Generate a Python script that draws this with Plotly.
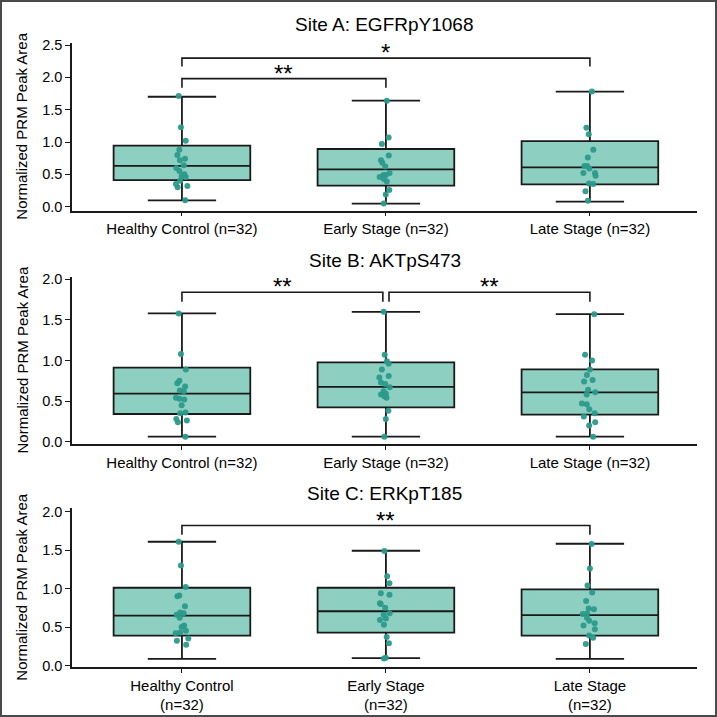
import plotly.graph_objects as go

# ---------------- data ----------------
categories = ["Healthy Control (n=32)", "Early Stage (n=32)", "Late Stage (n=32)"]
categories_c = ["Healthy Control<br>(n=32)", "Early Stage<br>(n=32)", "Late Stage<br>(n=32)"]
panel_titles = ["Site A: EGFRpY1068", "Site B: AKTpS473", "Site C: ERKpT185"]
y_title = "Normalized PRM Peak Area"

# box statistics per panel (Healthy, Early, Late)
a_q1 = [0.41, 0.325, 0.345]
a_med = [0.63, 0.577, 0.608]
a_q3 = [0.943, 0.892, 1.015]
a_lo = [0.098, 0.046, 0.077]
a_hi = [1.70, 1.64, 1.78]

b_q1 = [0.341, 0.423, 0.333]
b_med = [0.591, 0.674, 0.608]
b_q3 = [0.912, 0.977, 0.891]
b_lo = [0.062, 0.062, 0.062]
b_hi = [1.58, 1.60, 1.57]

c_q1 = [0.387, 0.426, 0.387]
c_med = [0.649, 0.705, 0.654]
c_q3 = [1.011, 1.011, 0.989]
c_lo = [0.086, 0.095, 0.086]
c_hi = [1.609, 1.492, 1.583]

# shown individual points
a_healthy = [1.71, 1.23, 1.02, 0.88, 0.80, 0.74, 0.72, 0.64, 0.60, 0.55, 0.50, 0.47, 0.46, 0.40, 0.35, 0.30, 0.32, 0.10]
a_early = [1.64, 1.07, 0.97, 0.79, 0.72, 0.68, 0.62, 0.52, 0.49, 0.49, 0.46, 0.43, 0.39, 0.26, 0.19, 0.05]
a_late = [1.78, 1.22, 1.12, 0.88, 0.76, 0.63, 0.63, 0.59, 0.52, 0.52, 0.48, 0.36, 0.35, 0.24, 0.09]

b_healthy = [1.58, 1.08, 0.89, 0.75, 0.72, 0.68, 0.63, 0.62, 0.54, 0.53, 0.52, 0.45, 0.36, 0.35, 0.28, 0.26, 0.24, 0.06]
b_early = [1.60, 1.07, 0.99, 0.96, 0.89, 0.81, 0.79, 0.73, 0.71, 0.67, 0.62, 0.59, 0.58, 0.56, 0.54, 0.38, 0.28, 0.06]
b_late = [1.57, 1.07, 1.00, 0.89, 0.82, 0.76, 0.74, 0.64, 0.61, 0.58, 0.47, 0.46, 0.40, 0.35, 0.31, 0.24, 0.20, 0.06]

c_healthy = [1.61, 1.30, 1.02, 0.91, 0.90, 0.77, 0.69, 0.68, 0.66, 0.62, 0.52, 0.50, 0.45, 0.43, 0.42, 0.35, 0.32, 0.27]
c_early = [1.49, 1.16, 1.07, 0.94, 0.92, 0.81, 0.80, 0.75, 0.68, 0.66, 0.61, 0.59, 0.53, 0.37, 0.29, 0.10, 0.09]
c_late = [1.58, 1.26, 1.04, 0.95, 0.84, 0.74, 0.73, 0.68, 0.67, 0.62, 0.58, 0.55, 0.52, 0.47, 0.39, 0.36, 0.28]

# significance brackets: (group_from, group_to, bar level, leg bottom, label)
a_sig = [(0, 2, 2.297, 2.168, "*"), (0, 1, 1.98, 1.838, "**")]
b_sig = [(0, 0.985, 1.84, 1.724, "**"), (1.015, 2, 1.84, 1.724, "**")]
c_sig = [(0, 2, 1.82, 1.70, "**")]

# ---------------- styling / layout ----------------
FONT = "Arial, Liberation Sans, sans-serif"
BOX_FILL = "#8dcfc0"
PT_COLOR = "#2b9a8b"
LINE = "#1a1a1a"
TXT = "#000000"

W = H = 717
x_dom = [72 / W, 697 / W]
y_doms = [[1 - 210.7 / H, 1 - 42.7 / H], [1 - 444.3 / H, 1 - 276.7 / H], [1 - 667 / H, 1 - 508.3 / H]]
y_ranges = [[-0.062, 2.536], [-0.032, 2.032], [-0.02, 2.044]]
y_ticks = [[0, 0.5, 1.0, 1.5, 2.0, 2.5], [0, 0.5, 1.0, 1.5, 2.0], [0, 0.5, 1.0, 1.5, 2.0]]
title_y = [1 - 24.7 / H, 1 - 260.7 / H, 1 - 493.3 / H]

panels = [
    (a_q1, a_med, a_q3, a_lo, a_hi, [a_healthy, a_early, a_late], a_sig, categories),
    (b_q1, b_med, b_q3, b_lo, b_hi, [b_healthy, b_early, b_late], b_sig, categories),
    (c_q1, c_med, c_q3, c_lo, c_hi, [c_healthy, c_early, c_late], c_sig, categories_c),
]

fig = go.Figure()
shapes = []
annotations = []
layout_axes = {}

for i, (q1, med, q3, lo, hi, pts, sig, labels) in enumerate(panels):
    n = i + 1
    xa = "x" if n == 1 else f"x{n}"
    ya = "y" if n == 1 else f"y{n}"
    xkey = "xaxis" if n == 1 else f"xaxis{n}"
    ykey = "yaxis" if n == 1 else f"yaxis{n}"

    fig.add_trace(go.Box(
        x=[0, 1, 2], q1=q1, median=med, q3=q3, lowerfence=lo, upperfence=hi,
        width=0.67, whiskerwidth=0.5, fillcolor=BOX_FILL,
        line=dict(color=LINE, width=1.8), boxpoints=False,
        xaxis=xa, yaxis=ya, showlegend=False, hoverinfo="skip",
    ))
    px, py = [], []
    for g, vals in enumerate(pts):
        px += [g] * len(vals)
        py += vals
    fig.add_trace(go.Box(
        x=px, y=py, boxpoints="all", jitter=0.12, pointpos=0, width=0.67,
        fillcolor="rgba(0,0,0,0)", line=dict(color="rgba(0,0,0,0)", width=0),
        whiskerwidth=0,
        marker=dict(color=PT_COLOR, size=6, opacity=0.95),
        xaxis=xa, yaxis=ya, showlegend=False, hoverinfo="skip",
    ))

    layout_axes[xkey] = dict(
        domain=x_dom, range=[-0.539, 2.525], anchor=ya,
        tickmode="array", tickvals=[0, 1, 2], ticktext=labels,
        showline=True, linecolor=LINE, linewidth=1.5, mirror=False,
        ticks="outside", ticklen=4, tickwidth=1.2, tickcolor=LINE,
        showgrid=False, zeroline=False, automargin=False,
        tickfont=dict(family=FONT, size=15, color=TXT),
    )
    layout_axes[ykey] = dict(
        domain=y_doms[i], range=y_ranges[i], anchor=xa,
        tickmode="array", tickvals=y_ticks[i], ticktext=[f"{v:.1f}" for v in y_ticks[i]],
        showline=True, linecolor=LINE, linewidth=1.5,
        ticks="outside", ticklen=5, tickwidth=1.2, tickcolor=LINE,
        showgrid=False, zeroline=False, automargin=False,
        tickfont=dict(family=FONT, size=14.5, color=TXT),
    )

    # brackets
    for (g0, g1, top, leg, lab) in sig:
        shapes.append(dict(type="path", xref=xa, yref=ya,
                           path=f"M {g0},{leg} L {g0},{top} L {g1},{top} L {g1},{leg}",
                           line=dict(color=LINE, width=1.6)))
        annotations.append(dict(x=(g0 + g1) / 2, y=top, xref=xa, yref=ya, text=lab,
                                showarrow=False, yanchor="bottom", yshift=-10,
                                font=dict(family=FONT, size=24, color=TXT)))

    # panel title
    annotations.append(dict(x=(x_dom[0] + x_dom[1]) / 2, y=title_y[i], xref="paper", yref="paper",
                            text=panel_titles[i], showarrow=False, yanchor="middle",
                            font=dict(family=FONT, size=19, color=TXT)))
    # y axis title
    annotations.append(dict(x=22 / W, y=(y_doms[i][0] + y_doms[i][1]) / 2, xref="paper", yref="paper",
                            text=y_title, textangle=-90, showarrow=False,
                            xanchor="center", yanchor="middle",
                            font=dict(family=FONT, size=15, color=TXT)))

# outer border
shapes.append(dict(type="rect", xref="paper", yref="paper", x0=0, y0=0, x1=1, y1=1,
                   line=dict(color="#4a4a4a", width=4)))

fig.update_layout(
    width=W, height=H,
    margin=dict(l=0, r=0, t=0, b=0),
    paper_bgcolor="white", plot_bgcolor="white",
    boxmode="overlay",
    shapes=shapes, annotations=annotations,
    showlegend=False,
    **layout_axes,
)

fig.write_html("out.html")
